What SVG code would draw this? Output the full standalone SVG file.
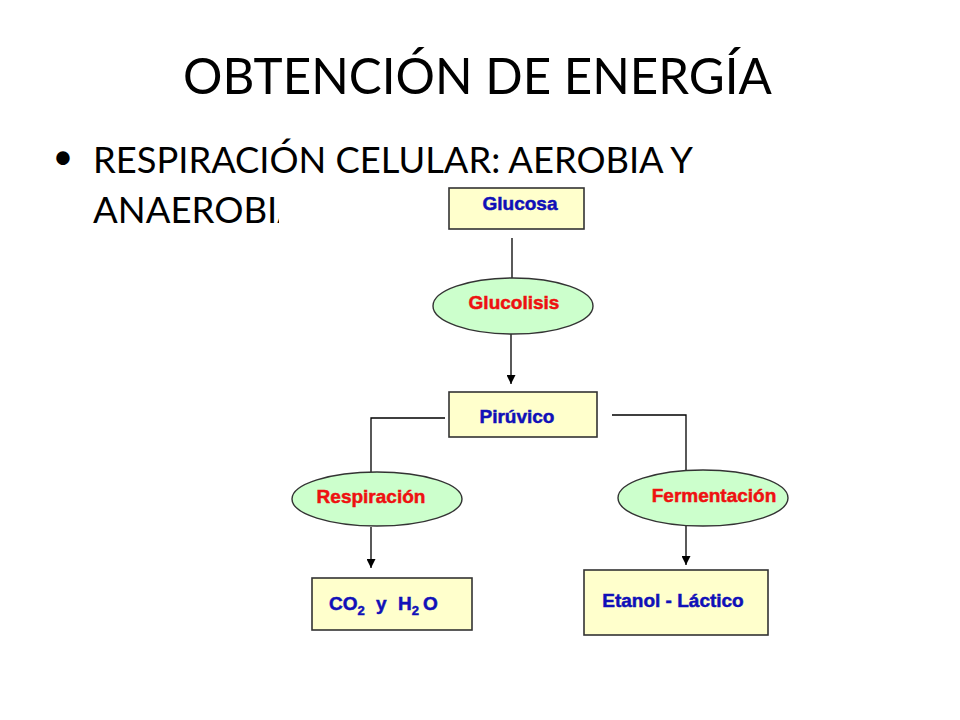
<svg xmlns="http://www.w3.org/2000/svg" width="960" height="720" viewBox="0 0 960 720">
  <defs>
    <marker id="arrow" viewBox="0 0 10 10" refX="10" refY="5" markerWidth="11" markerHeight="9" markerUnits="userSpaceOnUse" orient="auto">
      <path d="M0,0 L10,5 L0,10 z" fill="#000"/>
    </marker>
    <clipPath id="cut">
      <rect x="0" y="180" width="279" height="60"/>
    </clipPath>
  </defs>
  <style>
    .slide { font-family: Lato, "Liberation Sans", sans-serif; fill: #000; }
    .box { fill: #FFFFCC; stroke: #333; stroke-width: 1.6; }
    .oval { fill: #CCFFCC; stroke: #333; stroke-width: 1.4; }
    .blue { font-family: "Liberation Sans", Arial, sans-serif; font-weight: bold; font-size: 19px; fill: #1010B8; stroke: #1010B8; stroke-width: 0.5; }
    .red { font-family: "Liberation Sans", Arial, sans-serif; font-weight: bold; font-size: 19px; fill: #EE1111; stroke: #EE1111; stroke-width: 0.5; }
    .line { fill: none; stroke: #000; stroke-width: 1.3; }
  </style>
  <rect x="0" y="0" width="960" height="720" fill="#fff"/>

  <g id="title">
    <text class="slide" x="183" y="94" font-size="50" textLength="589" lengthAdjust="spacingAndGlyphs">OBTENCIÓN DE ENERGÍA</text>
  </g>
  <g id="bullet">
    <text class="slide" x="63" y="169" font-size="36" text-anchor="middle">•</text>
    <text class="slide" x="93" y="173" font-size="37" textLength="600" lengthAdjust="spacingAndGlyphs">RESPIRACIÓN CELULAR: AEROBIA Y</text>
    <text class="slide" x="93" y="223" font-size="37" textLength="209" lengthAdjust="spacingAndGlyphs" clip-path="url(#cut)">ANAEROBIA</text>
  </g>

  <g id="connectors">
    <line class="line" x1="512" y1="238" x2="512" y2="279"/>
    <line class="line" x1="511" y1="334" x2="511" y2="384" marker-end="url(#arrow)"/>
    <polyline class="line" points="445,418 371,418 371,472"/>
    <polyline class="line" points="612,415 686,415 686,471"/>
    <line class="line" x1="371" y1="527" x2="371" y2="568" marker-end="url(#arrow)"/>
    <line class="line" x1="686" y1="526" x2="686" y2="565" marker-end="url(#arrow)"/>
  </g>

  <g id="glucosa">
    <rect class="box" x="449" y="188" width="135" height="41"/>
    <text class="blue" x="520" y="210" text-anchor="middle">Glucosa</text>
  </g>
  <g id="glucolisis">
    <ellipse class="oval" cx="513" cy="306" rx="80" ry="28"/>
    <text class="red" x="514" y="309" text-anchor="middle">Glucolisis</text>
  </g>
  <g id="piruvico">
    <rect class="box" x="449" y="392" width="148" height="45"/>
    <text class="blue" x="517" y="423" text-anchor="middle">Pirúvico</text>
  </g>
  <g id="respiracion">
    <ellipse class="oval" cx="377" cy="499" rx="85" ry="27"/>
    <text class="red" x="371" y="503" text-anchor="middle">Respiración</text>
  </g>
  <g id="fermentacion">
    <ellipse class="oval" cx="703" cy="498" rx="85" ry="28"/>
    <text class="red" x="714" y="502" text-anchor="middle">Fermentación</text>
  </g>
  <g id="co2">
    <rect class="box" x="312" y="578" width="160" height="52"/>
    <text class="blue" x="329" y="610" font-size="18px">CO<tspan font-size="13px" dy="5">2</tspan><tspan dy="-5" x="376">y</tspan><tspan x="398">H</tspan><tspan font-size="13px" dy="5">2</tspan><tspan dy="-5" x="423">O</tspan></text>
  </g>
  <g id="etanol">
    <rect class="box" x="584" y="570" width="184" height="65"/>
    <text class="blue" x="673" y="607" text-anchor="middle">Etanol - Láctico</text>
  </g>
</svg>
